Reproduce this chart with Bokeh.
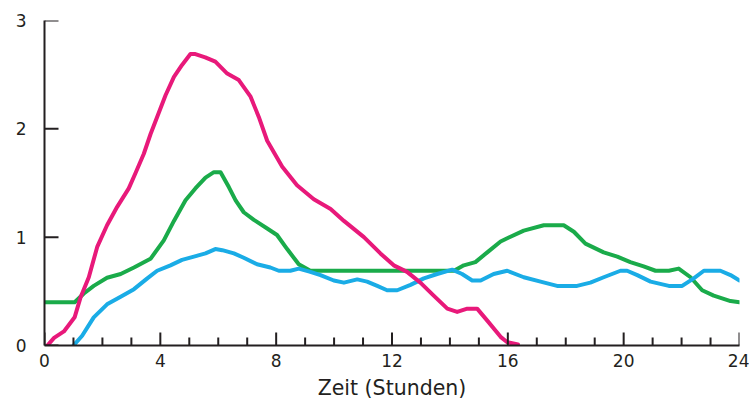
from bokeh.plotting import figure
from bokeh.models import Range1d, SingleIntervalTicker, FixedTicker
from bokeh.embed import file_html
from bokeh.resources import INLINE

# ---- data ----
pink_x = [0.1, 0.33, 0.67, 1.04, 1.24, 1.53, 1.82, 2.16, 2.51, 2.91, 3.14, 3.43, 3.66, 3.89,
          4.18, 4.47, 4.75, 5.04, 5.21, 5.55, 5.9, 6.31, 6.71, 7.11, 7.4, 7.69, 8.21, 8.72,
          9.3, 9.88, 10.34, 11.03, 11.6, 12.06, 12.52, 12.98, 13.44, 13.91, 14.25, 14.6,
          14.94, 15.29, 15.75, 15.98, 16.35]
pink_y = [0.0, 0.07, 0.13, 0.26, 0.44, 0.63, 0.91, 1.11, 1.28, 1.45, 1.59, 1.77, 1.95, 2.11,
          2.31, 2.48, 2.59, 2.69, 2.69, 2.66, 2.62, 2.51, 2.45, 2.3, 2.11, 1.89, 1.65, 1.48,
          1.35, 1.26, 1.15, 1.0, 0.85, 0.74, 0.68, 0.58, 0.46, 0.34, 0.31, 0.34,
          0.34, 0.23, 0.08, 0.03, 0.01]

green_x = [0.0, 1.04, 1.36, 1.7, 2.16, 2.63, 3.09, 3.66, 4.12, 4.47, 4.87, 5.21, 5.56, 5.85,
           6.08, 6.37, 6.6, 6.88, 7.23, 7.69, 8.03, 8.38, 8.78, 9.18, 14.14, 14.48, 14.88,
           15.29, 15.75, 15.98, 16.55, 17.24, 17.93, 18.28, 18.68, 19.31, 19.78, 20.23,
           20.69, 21.1, 21.56, 21.9, 22.31, 22.71, 23.11, 23.69, 24.0]
green_y = [0.4, 0.4, 0.48, 0.55, 0.625, 0.66, 0.72, 0.8, 0.97, 1.15, 1.34, 1.45, 1.55, 1.6,
           1.6, 1.46, 1.34, 1.23, 1.16, 1.08, 1.02, 0.89, 0.75, 0.69, 0.69, 0.74, 0.77,
           0.86, 0.96, 0.99, 1.06, 1.11, 1.11, 1.05, 0.94, 0.86, 0.82, 0.77,
           0.73, 0.69, 0.69, 0.71, 0.63, 0.51, 0.46, 0.41, 0.4]

blue_x = [1.0, 1.3, 1.7, 2.16, 2.63, 3.09, 3.55, 3.89, 4.35, 4.75, 5.16, 5.56, 5.9, 6.14,
          6.54, 6.88, 7.34, 7.8, 8.09, 8.49, 8.78, 9.18, 9.53, 9.99, 10.34, 10.8, 11.14,
          11.49, 11.83, 12.18, 12.64, 13.1, 13.56, 14.08, 14.42, 14.77, 15.06, 15.51,
          15.98, 16.55, 17.13, 17.7, 18.39, 18.85, 19.31, 19.89, 20.12, 20.47, 20.93,
          21.56, 22.02, 22.42, 22.77, 23.34, 23.69, 24.0]
blue_y = [0.0, 0.09, 0.26, 0.38, 0.45, 0.52, 0.62, 0.69, 0.74, 0.79, 0.82, 0.85, 0.89, 0.88,
          0.85, 0.81, 0.75, 0.72, 0.69, 0.69, 0.71, 0.68, 0.65, 0.6, 0.58, 0.61, 0.59,
          0.55, 0.51, 0.51, 0.56, 0.62, 0.66, 0.7, 0.66, 0.6, 0.6, 0.66,
          0.69, 0.63, 0.59, 0.55, 0.55, 0.58, 0.63, 0.69, 0.69, 0.65, 0.59,
          0.55, 0.55, 0.62, 0.69, 0.69, 0.65, 0.6]

x_tick_interval = 4
x_minor_per_major = 4
x_max = 24
y_ticks = [0, 1, 2, 3]
x_label = "Zeit (Stunden)"

PINK = "#e8197a"
GREEN = "#1aab4a"
BLUE = "#1aace6"
INK = "#231f20"
FONT = "DejaVu Sans"

FW, FH = 695, 325
p = figure(frame_width=FW, frame_height=FH, output_backend="svg", toolbar_location=None,
           x_range=Range1d(0, x_max), y_range=Range1d(0, 3),
           min_border_left=44, min_border_top=20, min_border_right=10, min_border_bottom=50)
p.outline_line_color = None
p.xgrid.visible = False
p.ygrid.visible = False
p.background_fill_color = "white"
p.border_fill_color = "white"

p.line(green_x, green_y, line_color=GREEN, line_width=4, line_join="round", line_cap="round")
p.line(blue_x, blue_y, line_color=BLUE, line_width=4, line_join="round", line_cap="round")
p.line(pink_x, pink_y, line_color=PINK, line_width=4, line_join="round", line_cap="round")

# inward tick marks drawn from the tick positions (start just below the axis, clipped by frame)
uy = 3.0 / FH
ux = x_max / FW
step = x_tick_interval / x_minor_per_major
all_x = [i * step for i in range(int(x_max / step) + 1)]
maj_x = [v for v in all_x if v % x_tick_interval == 0]
min_x = [v for v in all_x if v % x_tick_interval != 0]
p.segment(x0=maj_x, y0=[-0.05] * len(maj_x), x1=maj_x, y1=[13 * uy] * len(maj_x),
          line_color=INK, line_width=2)
p.segment(x0=min_x, y0=[-0.05] * len(min_x), x1=min_x, y1=[8 * uy] * len(min_x),
          line_color=INK, line_width=2)
p.segment(x0=[0] * len(y_ticks), y0=y_ticks, x1=[14 * ux] * len(y_ticks), y1=y_ticks,
          line_color=INK, line_width=2)

xa = p.xaxis[0]
xa.ticker = SingleIntervalTicker(interval=x_tick_interval, num_minor_ticks=x_minor_per_major)
xa.axis_line_width = 2
xa.axis_line_color = INK
xa.major_tick_line_color = None
xa.minor_tick_line_color = None
xa.major_tick_in = 0
xa.major_tick_out = 0
xa.minor_tick_in = 0
xa.minor_tick_out = 0
xa.major_label_text_font = FONT
xa.major_label_text_font_size = "17px"
xa.major_label_text_color = INK
xa.major_label_standoff = 8
xa.axis_label = x_label
xa.axis_label_text_font = FONT
xa.axis_label_text_font_size = "20.5px"
xa.axis_label_text_font_style = "normal"
xa.axis_label_text_color = INK
xa.axis_label_standoff = 6

ya = p.yaxis[0]
ya.ticker = FixedTicker(ticks=y_ticks)
ya.axis_line_width = 2
ya.axis_line_color = INK
ya.major_tick_line_color = None
ya.minor_tick_line_color = None
ya.major_tick_in = 0
ya.major_tick_out = 0
ya.major_label_text_font = FONT
ya.major_label_text_font_size = "17px"
ya.major_label_text_color = INK
ya.major_label_standoff = 18

open("out.html", "w").write(file_html(p, INLINE))
